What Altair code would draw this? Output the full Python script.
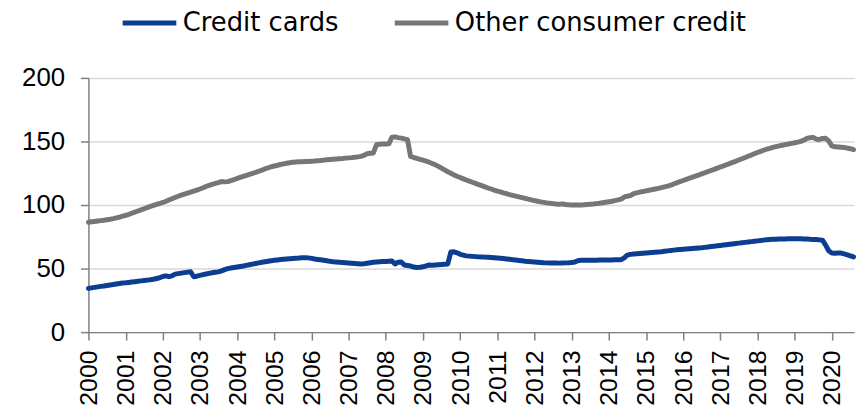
import altair as alt
import pandas as pd

# Monthly values, Jan 2000 .. Aug 2020 (one row per year)
credit_cards = [
    34.4, 34.8, 35.2, 35.6, 36.0, 36.3, 36.7, 37.1, 37.5, 37.9, 38.3, 38.6,  # 2000
    38.8, 39.1, 39.4, 39.7, 40.0, 40.3, 40.6, 40.9, 41.2, 41.6, 42.2, 42.8,  # 2001
    43.8, 44.3, 43.6, 44.2, 45.6, 46.0, 46.4, 46.8, 47.2, 47.5, 43.6, 44.0,  # 2002
    44.6, 45.2, 45.7, 46.2, 46.7, 47.1, 47.4, 48.2, 49.2, 50.0, 50.4, 50.8,  # 2003
    51.2, 51.6, 52.0, 52.5, 53.0, 53.5, 54.0, 54.5, 55.0, 55.4, 55.8, 56.2,  # 2004
    56.5, 56.8, 57.1, 57.4, 57.6, 57.8, 58.0, 58.2, 58.3, 58.5, 58.6, 58.4,  # 2005
    58.0, 57.5, 57.2, 56.9, 56.5, 56.1, 55.7, 55.4, 55.2, 55.0, 54.8, 54.6,  # 2006
    54.4, 54.2, 54.0, 53.8, 53.6, 53.8, 54.2, 54.6, 55.0, 55.2, 55.4, 55.5,  # 2007
    55.6, 55.8, 56.0, 53.6, 55.0, 55.2, 52.8, 52.4, 52.0, 51.2, 50.8, 51.0,  # 2008
    51.4, 52.2, 52.8, 52.6, 52.8, 53.0, 53.2, 53.4, 53.6, 63.0, 63.2, 62.4,  # 2009
    61.2, 60.6, 60.0, 59.8, 59.6, 59.4, 59.2, 59.1, 59.0, 58.9, 58.7, 58.5,  # 2010
    58.3, 58.1, 57.9, 57.6, 57.3, 57.0, 56.7, 56.4, 56.1, 55.8, 55.6, 55.4,  # 2011
    55.2, 55.0, 54.8, 54.6, 54.5, 54.4, 54.4, 54.4, 54.3, 54.4, 54.5, 54.6,  # 2012
    54.8, 55.2, 56.2, 56.5, 56.5, 56.5, 56.6, 56.6, 56.6, 56.7, 56.7, 56.8,  # 2013
    56.8, 56.8, 56.9, 56.9, 57.0, 58.5, 60.6, 61.2, 61.5, 61.7, 61.9, 62.1,  # 2014
    62.3, 62.5, 62.7, 62.9, 63.1, 63.3, 63.6, 63.9, 64.2, 64.5, 64.8, 65.0,  # 2015
    65.2, 65.4, 65.6, 65.8, 66.0, 66.2, 66.4, 66.7, 67.0, 67.3, 67.6, 67.9,  # 2016
    68.2, 68.5, 68.8, 69.1, 69.4, 69.7, 70.0, 70.3, 70.6, 70.9, 71.2, 71.5,  # 2017
    71.8, 72.1, 72.4, 72.7, 72.9, 73.0, 73.1, 73.2, 73.3, 73.3, 73.4, 73.4,  # 2018
    73.5, 73.5, 73.4, 73.3, 73.2, 73.0, 72.9, 72.8, 72.6, 72.3, 68.5, 64.0,  # 2019
    62.2, 62.0, 62.3, 62.2, 61.5, 60.8, 60.0, 59.2,                          # 2020
]

other_consumer_credit = [
    86.5, 86.8, 87.1, 87.4, 87.7, 88.0, 88.4, 88.8, 89.3, 89.9, 90.5, 91.2,  # 2000
    91.9, 92.7, 93.5, 94.4, 95.3, 96.2, 97.1, 98.0, 98.9, 99.7, 100.5, 101.2,  # 2001
    102.0, 102.9, 103.9, 104.9, 105.9, 106.9, 107.8, 108.6, 109.4, 110.2, 111.0, 111.8,  # 2002
    112.6, 113.6, 114.6, 115.5, 116.3, 117.0, 117.6, 118.5, 118.2, 118.4, 119.2, 120.0,  # 2003
    120.9, 121.7, 122.5, 123.3, 124.1, 124.9, 125.7, 126.6, 127.5, 128.4, 129.3, 130.1,  # 2004
    130.7, 131.3, 131.9, 132.4, 132.9, 133.3, 133.6, 133.8, 134.0, 134.1, 134.2, 134.3,  # 2005
    134.5, 134.6, 134.8, 135.0, 135.3, 135.6, 135.8, 136.0, 136.2, 136.4, 136.6, 136.9,  # 2006
    137.1, 137.3, 137.6, 137.9, 138.3, 139.0, 140.4, 140.7, 141.0, 147.4, 147.8, 148.0,  # 2007
    148.0, 148.2, 153.4, 153.6, 153.0, 152.6, 152.0, 151.4, 138.2, 137.4, 136.7, 136.0,  # 2008
    135.3, 134.6, 133.7, 132.7, 131.6, 130.4, 129.0, 127.6, 126.2, 125.0, 123.7, 122.6,  # 2009
    121.6, 120.6, 119.7, 118.8, 117.9, 117.0, 116.1, 115.2, 114.3, 113.4, 112.6, 111.8,  # 2010
    111.0, 110.3, 109.6, 108.9, 108.2, 107.6, 107.0, 106.4, 105.8, 105.2, 104.6, 104.0,  # 2011
    103.5, 103.0, 102.5, 102.1, 101.7, 101.4, 101.1, 100.8, 100.6, 100.9, 100.4, 100.2,  # 2012
    100.1, 100.0, 100.0, 100.1, 100.2, 100.4, 100.6, 100.8, 101.1, 101.4, 101.8, 102.2,  # 2013
    102.6, 103.0, 103.5, 104.0, 104.6, 106.4, 106.9, 107.4, 109.0, 109.6, 110.1, 110.6,  # 2014
    111.1, 111.6, 112.1, 112.6, 113.1, 113.7, 114.3, 114.9, 115.6, 116.6, 117.5, 118.4,  # 2015
    119.3, 120.2, 121.1, 122.0, 122.8, 123.6, 124.5, 125.4, 126.3, 127.2, 128.1, 129.0,  # 2016
    129.9, 130.8, 131.7, 132.6, 133.5, 134.4, 135.4, 136.4, 137.4, 138.4, 139.4, 140.4,  # 2017
    141.3, 142.2, 143.1, 143.9, 144.6, 145.3, 145.9, 146.5, 147.0, 147.5, 148.0, 148.5,  # 2018
    149.0, 149.5, 150.1, 151.0, 152.4, 152.9, 153.2, 151.8, 151.6, 152.4, 152.5, 150.5,  # 2019
    146.5, 145.8, 145.6, 145.4, 145.2, 144.8, 144.3, 143.6,                           # 2020
]

series_names = ["Credit cards", "Other consumer credit"]
series_colors = ["#0b3d91", "#767676"]
year_ticks = list(range(2000, 2021))
y_ticks = [0, 50, 100, 150, 200]

dates = pd.date_range("2000-01-01", periods=len(credit_cards), freq="MS").strftime("%Y-%m-%d")
df = pd.concat([
    pd.DataFrame({"date": dates, "value": credit_cards, "series": series_names[0]}),
    pd.DataFrame({"date": dates, "value": other_consumer_credit, "series": series_names[1]}),
])

chart = alt.Chart(df).mark_line(strokeWidth=5, strokeJoin="round", strokeCap="round").encode(
    x=alt.X(
        "date:T",
        scale=alt.Scale(
            type="utc",
            domain=[alt.DateTime(year=2000, month=1, date=1, utc=True),
                    alt.DateTime(year=2020, month=8, date=6, utc=True)],
        ),
        axis=alt.Axis(
            title=None,
            values=[alt.DateTime(year=y, month=1, date=1, utc=True) for y in year_ticks],
            format="%Y",
            labelAngle=270,
            labelAlign="right",
            labelBaseline="middle",
            labelPadding=10,
            tickSize=8,
            grid=False,
            labelFont="Liberation Sans",
            labelFontSize=25,
            labelColor="#000000",
            domainColor="#808080",
            domainWidth=1.5,
            tickColor="#808080",
            tickWidth=1.5,
        ),
    ),
    y=alt.Y(
        "value:Q",
        scale=alt.Scale(domain=[0, 200]),
        axis=alt.Axis(
            title=None,
            values=y_ticks,
            tickSize=8,
            labelPadding=16,
            labelFont="Liberation Sans",
            labelFontSize=26,
            labelColor="#000000",
            domainColor="#808080",
            domainWidth=1.5,
            tickColor="#808080",
            tickWidth=1.5,
            gridColor="#d9d9d9",
            gridWidth=1.5,
        ),
    ),
    color=alt.Color(
        "series:N",
        scale=alt.Scale(domain=series_names, range=series_colors),
        legend=alt.Legend(
            title=None,
            orient="none",
            direction="horizontal",
            legendX=32,
            legendY=-85,
            symbolType="stroke",
            symbolSize=2916,
            symbolStrokeWidth=5,
            labelFont="DejaVu Sans",
            labelFontSize=26,
            labelColor="#000000",
            labelLimit=0,
            labelOffset=4,
            columnPadding=46,
            padding=0,
        ),
    ),
).properties(
    width=771,
    height=256,
    padding={"left": 81, "top": 69, "right": 4, "bottom": 76},
    autosize=alt.AutoSizeParams(type="none"),
).configure_view(strokeWidth=0)

chart.save("out.html", embed_options={"renderer": "svg", "actions": False})
